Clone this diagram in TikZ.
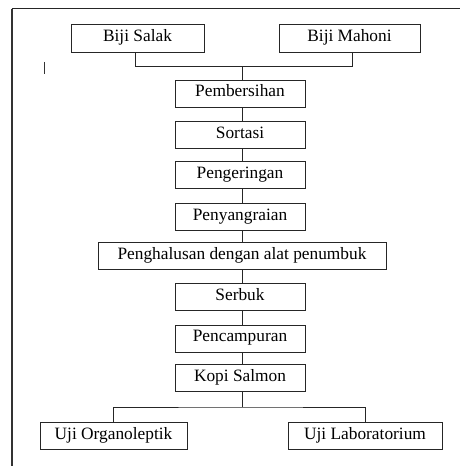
\documentclass[tikz,border=0pt]{standalone}
\usepackage{fontspec}
\setmainfont{Liberation Serif}
\begin{document}
\begin{tikzpicture}[x=0.75pt,y=-0.75pt,
  box/.style={draw=black!85, line width=0.75pt, rectangle, inner sep=0pt,
    minimum height=20.25pt, text height=9pt, text depth=4.5pt,
    font=\fontsize{13}{15}\selectfont},
  link/.style={draw=black!85, line width=0.75pt}]
\useasboundingbox (0,0) rectangle (460,466);
% frame
\draw[black!80, line width=1.5pt] (12,466) -- (12,9);
\draw[black!85, line width=0.75pt] (11.5,9) -- (460,9);
% stray mark
\draw[black!80, line width=0.75pt] (44,62) -- (44,74);
% nodes
\node[box, minimum width=99.75pt, minimum height=21pt] (salak) at (137.5,39) {Biji Salak};
\node[box, minimum width=105.75pt, minimum height=21pt] (mahoni) at (349.5,39) {Biji Mahoni};
\node[box, minimum width=97.5pt] (pem) at (240,94) {Pembersihan};
\node[box, minimum width=97.5pt] (sort) at (240,135.5) {Sortasi};
\node[box, minimum width=97.5pt] (peng) at (240,175.5) {Pengeringan};
\node[box, minimum width=97.5pt] (peny) at (240,217) {Penyangraian};
\node[box, minimum width=216pt] (halus) at (242,256) {Penghalusan dengan alat penumbuk};
\node[box, minimum width=97.5pt] (serbuk) at (240,297) {Serbuk};
\node[box, minimum width=97.5pt] (campur) at (240,338.5) {Pencampuran};
\node[box, minimum width=97.5pt] (kopi) at (240,378) {Kopi Salmon};
\node[box, minimum width=110.25pt] (org) at (113.5,436) {Uji Organoleptik};
\node[box, minimum width=115.5pt] (lab) at (365,436) {Uji Laboratorium};
% spine
\coordinate (j1) at (242,67);
\coordinate (j2) at (242,407);
\coordinate (sl) at (135,67);
\coordinate (mh) at (352,67);
\draw[link] (salak.south -| sl) -- (sl) -- (mh) -- (mahoni.south -| mh);
\draw[link] (j1) -- (pem.north -| j1);
\draw[link] (pem.south -| j1) -- (sort.north -| j1);
\draw[link] (sort.south -| j1) -- (peng.north -| j1);
\draw[link] (peng.south -| j1) -- (peny.north -| j1);
\draw[link] (peny.south -| j1) -- (halus.north -| j1);
\draw[link] (halus.south -| j1) -- (serbuk.north -| j1);
\draw[link] (serbuk.south -| j1) -- (campur.north -| j1);
\draw[link] (campur.south -| j1) -- (kopi.north -| j1);
\draw[link] (kopi.south -| j1) -- (j2);
\draw[link] (org.north) |- (j2) -| (lab.north);
\end{tikzpicture}
\end{document}
